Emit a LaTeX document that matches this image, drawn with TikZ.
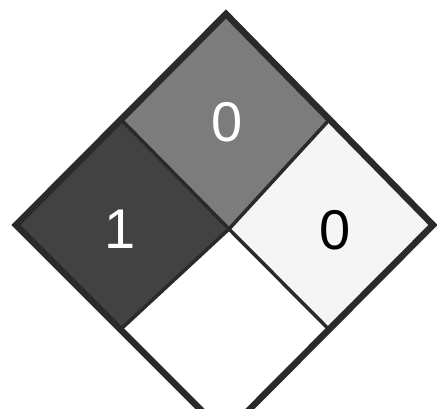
\documentclass[tikz,border=0pt]{standalone}
\usepackage{fontspec}
\setmainfont{Liberation Sans}
\usetikzlibrary{calc}
\definecolor{mydark}{RGB}{66,66,66}
\definecolor{mygray}{RGB}{124,124,124}
\definecolor{mylight}{RGB}{245,245,245}
\definecolor{myline}{RGB}{42,42,42}

\begin{document}
\begin{tikzpicture}[x=1pt,y=-1pt,
    rating/.style={font=\fontsize{56}{56}\selectfont},
    divider/.style={myline, line width=3.5pt}]
  \useasboundingbox (0,0) rectangle (437,408);
  \clip (0,0) rectangle (437,408);

  % outer corners
  \coordinate (t) at (226,14);
  \coordinate (l) at (16,225);
  \coordinate (r) at (433,225);
  \coordinate (b) at (225,434);
  \coordinate (c) at (229,229);
  \coordinate (tl) at ($(t)!0.5!(l)$);
  \coordinate (tr) at ($(t)!0.5!(r)$);
  \coordinate (bl) at ($(b)!0.5!(l)$);
  \coordinate (br) at ($(b)!0.5!(r)$);

  % quarters
  \fill[mygray] (t)--(tr)--(c)--(tl)--cycle;
  \fill[mydark] (tl)--(c)--(bl)--(l)--cycle;
  \fill[mylight] (tr)--(r)--(br)--(c)--cycle;
  \fill[white] (c)--(br)--(b)--(bl)--cycle;

  % dividers
  \draw[divider] (tl)--(c)--(br);
  \draw[divider] (tr)--(c)--(bl);
  \draw[myline, line width=6.5pt, line join=miter] (t)--(r)--(b)--(l)--cycle;

  % ratings
  \node[rating, text=white] (fire) at (227,122) {0};
  \node[rating, text=white] (health) at (120,229) {1};
  \node[rating, text=black] (react) at (335,230) {0};
\end{tikzpicture}
\end{document}
